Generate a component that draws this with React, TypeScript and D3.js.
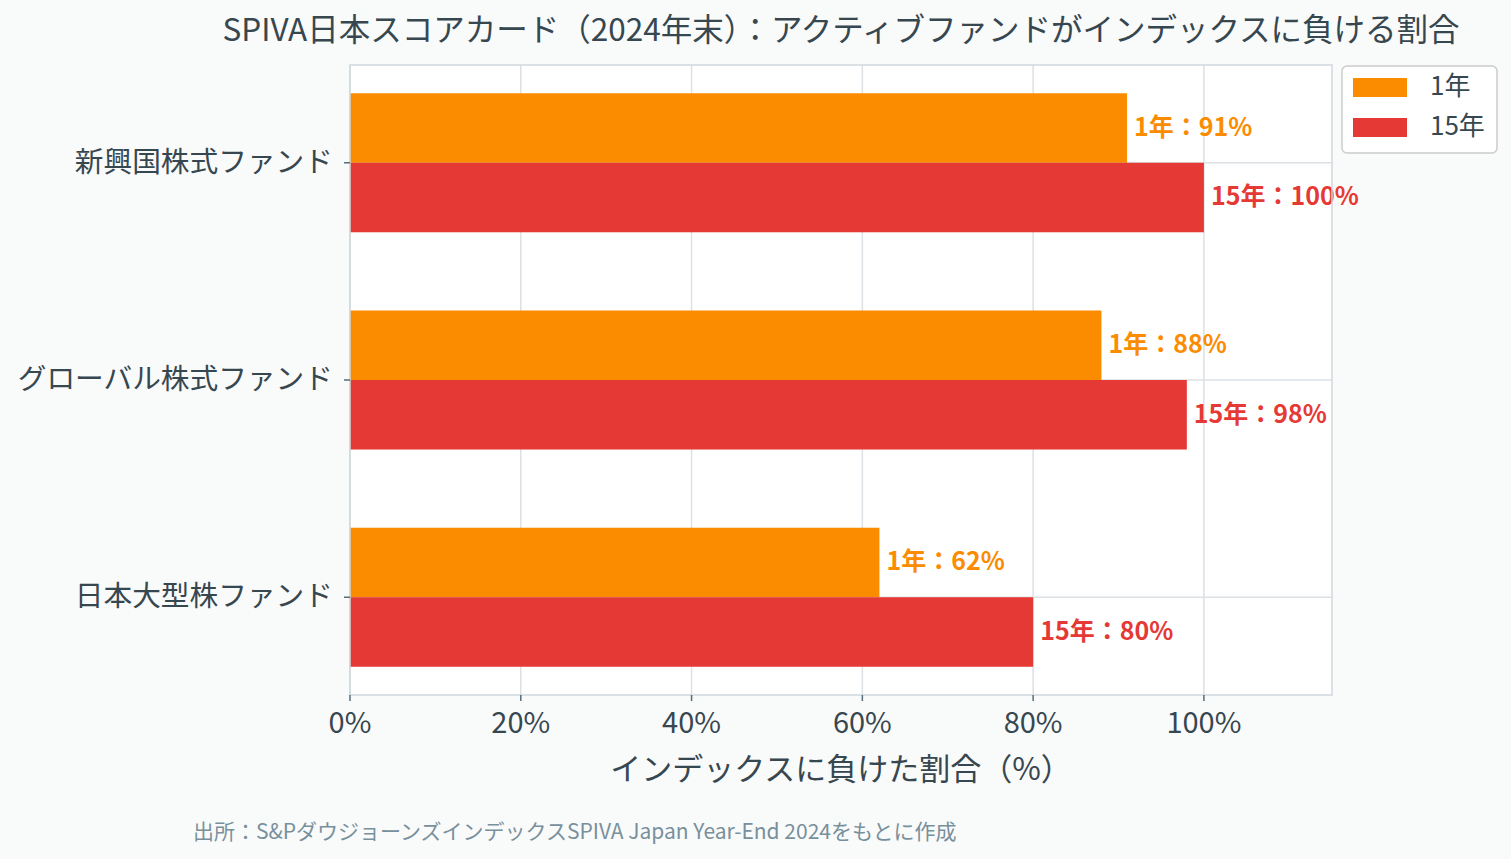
import * as d3 from 'd3';

const categories = ['新興国株式ファンド', 'グローバル株式ファンド', '日本大型株ファンド'];
const oneYear = [91, 88, 62];
const fifteenYear = [100, 98, 80];
const seriesNames = ['1年', '15年'];
const xTicks = [0, 20, 40, 60, 80, 100];

const W = 1511;
const H = 859;
const margin = { top: 65, right: 179, bottom: 164, left: 350 };
const font = '"Noto Sans CJK JP", "Noto Sans", sans-serif';
const textColor = '#37474f';
const colors = ['#fb8c00', '#e53935'];

export default function App() {
  const x = d3.scaleLinear().domain([0, 115]).range([margin.left, W - margin.right]);
  const y = d3.scaleLinear().domain([-0.45, 2.45]).range([margin.top, H - margin.bottom]);
  const barH = y(0.32) - y(0);
  const [x0, x1] = x.range();
  const [y0, y1] = y.range();
  const cx = (x0 + x1) / 2;

  const series = [oneYear, fifteenYear];

  return (
    <svg width={W} height={H} style={{ position: 'absolute', left: 0, top: 0, background: '#f9fafa' }}>
      <rect width={W} height={H} fill="#f9fafa" />
      {/* plot area */}
      <rect x={x0} y={y0} width={x1 - x0} height={y1 - y0} fill="#ffffff" />

      {/* gridlines */}
      {xTicks.map((t) => (
        <line key={'gx' + t} x1={x(t)} x2={x(t)} y1={y0} y2={y1} stroke="#dbe1e5" strokeWidth={1.5} />
      ))}
      {categories.map((_, i) => (
        <line key={'gy' + i} x1={x0} x2={x1} y1={y(i)} y2={y(i)} stroke="#dbe1e5" strokeWidth={1.5} />
      ))}

      {/* bars */}
      {series.map((vals, s) =>
        vals.map((v, i) => (
          <rect
            key={`b${s}-${i}`}
            x={x(0)}
            y={s === 0 ? y(i) - barH : y(i)}
            width={x(v) - x(0)}
            height={barH}
            fill={colors[s]}
          />
        ))
      )}

      {/* value labels */}
      {series.map((vals, s) =>
        vals.map((v, i) => (
          <text
            key={`l${s}-${i}`}
            x={x(v) + 7}
            y={(s === 0 ? y(i) - barH / 2 : y(i) + barH / 2) + 1}
            dominantBaseline="middle"
            fill={colors[s]}
            fontFamily={font}
            fontWeight="bold"
            fontSize={25}
          >
            {`${seriesNames[s]}：${v}%`}
          </text>
        ))
      )}

      {/* frame */}
      <rect x={x0} y={y0} width={x1 - x0} height={y1 - y0} fill="none" stroke="#cfd8dc" strokeWidth={1.5} />

      {/* y axis ticks + labels */}
      {categories.map((c, i) => (
        <g key={'yt' + i}>
          <line x1={x0 - 6} x2={x0} y1={y(i)} y2={y(i)} stroke="#546e7a" strokeWidth={1.5} />
          <text
            x={x0 - 17}
            y={y(i) + 1}
            textAnchor="end"
            dominantBaseline="middle"
            fill={textColor}
            fontFamily={font}
            fontSize={28.7}
          >
            {c}
          </text>
        </g>
      ))}

      {/* x axis ticks + labels */}
      {xTicks.map((t) => (
        <g key={'xt' + t}>
          <line x1={x(t)} x2={x(t)} y1={y1} y2={y1 + 6} stroke="#546e7a" strokeWidth={1.5} />
          <text x={x(t)} y={y1 + 38} textAnchor="middle" fill={textColor} fontFamily={font} fontSize={29}>
            {`${t}%`}
          </text>
        </g>
      ))}

      <text x={cx} y={y1 + 85} textAnchor="middle" fill={textColor} fontFamily={font} fontSize={31}>
        インデックスに負けた割合（%）
      </text>

      {/* title */}
      <text x={cx} y={41} textAnchor="middle" fill={textColor} fontFamily={font} fontSize={31.5}>
        SPIVA日本スコアカード（2024年末）：アクティブファンドがインデックスに負ける割合
      </text>

      {/* legend */}
      <g>
        <rect x={1342} y={66} width={155} height={87} rx={5} fill="#ffffff" stroke="#cccccc" strokeWidth={1.5} />
        {seriesNames.map((n, s) => (
          <g key={'lg' + s}>
            <rect x={1353} y={78 + s * 40} width={54} height={19} fill={colors[s]} />
            <text
              x={1430}
              y={88 + s * 40}
              dominantBaseline="middle"
              fill={textColor}
              fontFamily={font}
              fontSize={26}
            >
              {n}
            </text>
          </g>
        ))}
      </g>

      {/* source */}
      <text x={193} y={839} fill="#78909c" fontFamily={font} fontSize={21}>
        出所：S&amp;PダウジョーンズインデックスSPIVA Japan Year-End 2024をもとに作成
      </text>
    </svg>
  );
}
